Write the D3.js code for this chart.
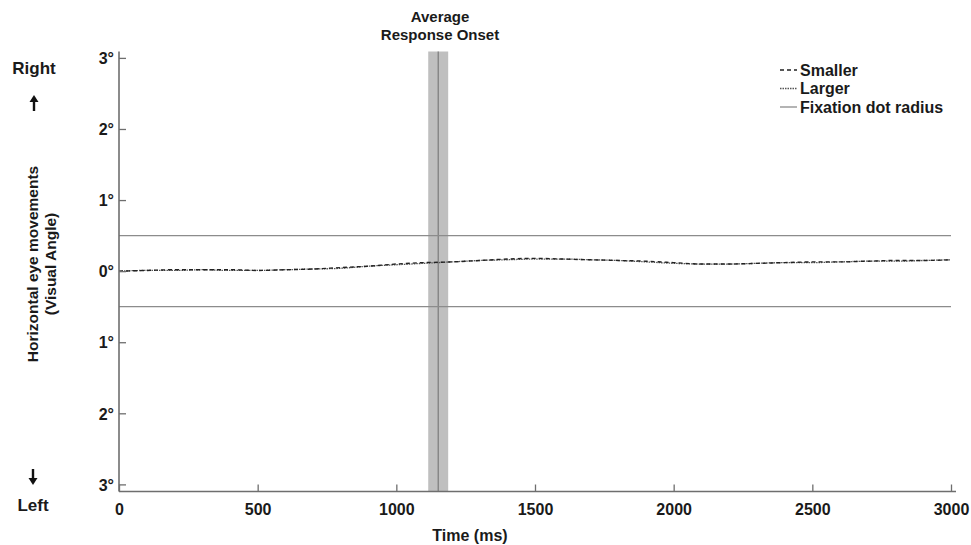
<!DOCTYPE html>
<html><head><meta charset="utf-8">
<script src="https://cdn.jsdelivr.net/npm/d3@7"></script>
<style>
body{margin:0;background:#fff;}
text{font-family:"Liberation Sans",Arial,sans-serif;font-weight:bold;fill:#1a1a1a;}
</style></head><body>
<svg id="c" width="971" height="545"></svg>
<script>
const times = d3.range(0, 3001, 100);
const smaller = [0.00,0.01,0.02,0.02,0.02,0.01,0.02,0.03,0.05,0.07,0.10,0.12,0.13,0.15,0.17,0.18,0.17,0.16,0.15,0.14,0.12,0.10,0.10,0.11,0.12,0.13,0.13,0.14,0.15,0.15,0.16];
const larger  = [0.00,0.01,0.01,0.02,0.01,0.01,0.02,0.03,0.04,0.07,0.09,0.11,0.13,0.15,0.16,0.17,0.17,0.16,0.15,0.13,0.11,0.10,0.10,0.11,0.12,0.12,0.13,0.14,0.14,0.15,0.16];
const yTicks = [3,2,1,0,-1,-2,-3];
const yTickLabels = ["3°","2°","1°","0°","1°","2°","3°"];
const xTicks = [0,500,1000,1500,2000,2500,3000];
const fixationRadius = 0.5;
const onsetMean = 1151, onsetHalfWidth = 36;
const legendItems = ["Smaller","Larger","Fixation dot radius"];

const svg = d3.select("#c");
const x = d3.scaleLinear().domain([0,3000]).range([119,951]);
const y = d3.scaleLinear().domain([-3.1,3.09]).range([491.5,51.5]);
const axisColor = "#6e6e6e";

// onset band
svg.append("rect").attr("x", x(onsetMean-onsetHalfWidth)).attr("y", y(3.09))
  .attr("width", x(onsetMean+onsetHalfWidth)-x(onsetMean-onsetHalfWidth))
  .attr("height", y(-3.1)-y(3.09)).attr("fill","#bfbfbf");
svg.append("line").attr("x1",x(onsetMean)).attr("x2",x(onsetMean))
  .attr("y1",y(3.09)).attr("y2",y(-3.1)).attr("stroke","#7a7a7a").attr("stroke-width",1.2);

// fixation lines
[fixationRadius,-fixationRadius].forEach(v=>{
  svg.append("line").attr("x1",x(0)).attr("x2",x(3000)).attr("y1",y(v)).attr("y2",y(v))
    .attr("stroke","#8c8c8c").attr("stroke-width",1.3);
});

// data lines
const line = d3.line().x((d,i)=>x(times[i])).y(d=>y(d)).curve(d3.curveMonotoneX);
svg.append("path").datum(larger).attr("d",line).attr("fill","none")
  .attr("stroke","#555").attr("stroke-width",1.3).attr("stroke-dasharray","1.5,1");
svg.append("path").datum(smaller).attr("d",line).attr("fill","none")
  .attr("stroke","#222").attr("stroke-width",1.4).attr("stroke-dasharray","4,3");

// axes
const yAxis = svg.append("g").attr("transform",`translate(${x(0)},0)`)
  .call(d3.axisRight(y).tickValues(yTicks).tickSize(7).tickFormat(""));
yAxis.select(".domain").attr("d",`M0,${y(3.09)}V${y(-3.1)}`).attr("stroke",axisColor).attr("stroke-width",1.6);
yAxis.selectAll(".tick line").attr("stroke",axisColor).attr("stroke-width",1.3);
yAxis.selectAll(".tick").append("text").attr("x",-5).attr("dy","0.36em")
  .attr("text-anchor","end").style("font-size","16px").text((d,i)=>yTickLabels[i]);

const xAxis = svg.append("g").attr("transform",`translate(0,${y(-3.1)})`)
  .call(d3.axisTop(x).tickValues(xTicks).tickSize(7).tickFormat(""));
xAxis.select(".domain").attr("d",`M${x(0)},0H${x(0)+837}`).attr("stroke",axisColor).attr("stroke-width",1.6);
xAxis.selectAll(".tick line").attr("stroke",axisColor).attr("stroke-width",1.3);
xAxis.selectAll(".tick").append("text").attr("y",23).attr("text-anchor","middle")
  .style("font-size","16px").text(d=>d);

// axis titles
svg.append("text").attr("x",470).attr("y",541).attr("text-anchor","middle").style("font-size","16px").text("Time (ms)");
const yt = svg.append("text").attr("transform","translate(38,264) rotate(-90)").attr("text-anchor","middle").style("font-size","15.5px");
yt.append("tspan").attr("x",0).attr("dy",0).text("Horizontal eye movements");
yt.append("tspan").attr("x",0).attr("dy",18).text("(Visual Angle)");

svg.append("text").attr("x",34).attr("y",74).attr("text-anchor","middle").style("font-size","17px").text("Right");
svg.append("text").attr("x",33).attr("y",511).attr("text-anchor","middle").style("font-size","17px").text("Left");
// arrows
function arrow(cx, tip, dir){
  const g = svg.append("g");
  g.append("line").attr("x1",cx).attr("x2",cx).attr("y1",tip+dir*5).attr("y2",tip+dir*16).attr("stroke","#111").attr("stroke-width",2.4);
  g.append("path").attr("d",`M${cx-4.5},${tip+dir*7}L${cx},${tip}L${cx+4.5},${tip+dir*7}Z`).attr("fill","#111");
}
arrow(34,95,1);
arrow(33,485,-1);

// top label
svg.append("text").attr("x",440).attr("y",22).attr("text-anchor","middle").style("font-size","15px").text("Average");
svg.append("text").attr("x",440).attr("y",40).attr("text-anchor","middle").style("font-size","15px").text("Response Onset");

// legend
const lg = svg.append("g");
const dashes = ["4,3","1.5,1",null];
const lcols = ["#222","#555","#8c8c8c"];
legendItems.forEach((t,i)=>{
  const ly = 70 + i*18.5;
  const l = lg.append("line").attr("x1",780).attr("x2",797).attr("y1",ly).attr("y2",ly)
    .attr("stroke",lcols[i]).attr("stroke-width",1.3);
  if(dashes[i]) l.attr("stroke-dasharray",dashes[i]);
  lg.append("text").attr("x",800).attr("y",ly+5.5).style("font-size","16px").text(t);
});
</script></body></html>
